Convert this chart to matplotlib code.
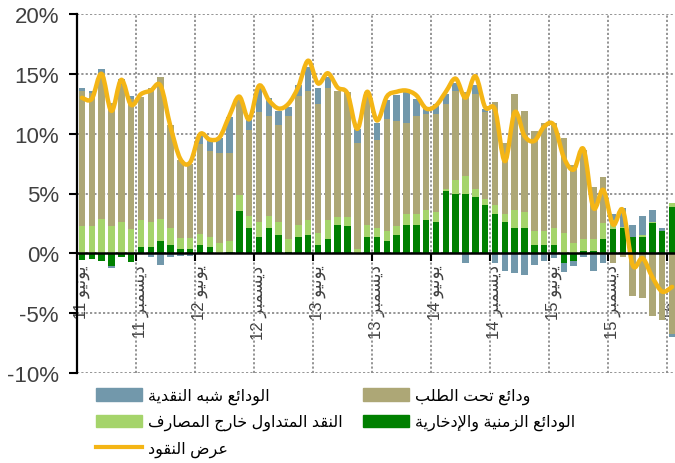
import re
import numpy as np
import matplotlib
matplotlib.use("Agg")
import matplotlib.pyplot as plt
from matplotlib.path import Path
from matplotlib.patches import PathPatch, Patch
from matplotlib.lines import Line2D

plt.rcParams['font.family'] = ['Liberation Sans', 'DejaVu Sans']

# ---------------- data (growth contributions, % ) ----------------
tick_labels = ["يونيو 11", "ديسمبر 11", "يونيو 12", "ديسمبر 12", "يونيو 13",
               "ديسمبر 13", "يونيو 14", "ديسمبر 14", "يونيو 15", "ديسمبر 15",
               "يونيو 16"]

series_names = ["الودائع الزمنية والإدخارية", "النقد المتداول خارج المصارف",
                "ودائع تحت الطلب", "الودائع شبه النقدية"]
line_name = "عرض النقود"

time_savings = [-0.55, -0.45, -0.65, -1.05, -0.3, -0.75, 0.55, 0.55, 1.05, 0.7,
                0.34, 0.34, 0.7, 0.55, 0.05, 0.1, 3.5, 2.1, 1.4, 2.1,
                1.55, 0.15, 1.35, 1.55, 0.7, 1.2, 2.4, 2.3, 0.0, 1.35,
                1.35, 1.05, 1.55, 2.4, 2.4, 2.8, 2.6, 5.2, 5.0, 5.0,
                4.7, 4.0, 3.3, 2.6, 2.1, 2.1, 0.7, 0.7, 0.7, -0.77,
                -0.6, 0.2, 0.2, 1.2, 2.0, 2.1, 1.4, 1.4, 2.5, 1.9,
                3.85]
currency = [2.27, 2.27, 2.9, 2.27, 2.6, 2.07, 2.25, 2.05, 1.85, 1.4,
            0.96, 0.96, 0.9, 0.85, 0.8, 0.95, 1.35, 1.0, 1.2, 1.0,
            1.05, 1.05, 1.05, 1.2, 1.0, 1.55, 0.6, 0.7, 0.37, 1.05,
            0.75, 0.85, 0.7, 0.9, 0.9, 0.8, 0.85, 0.2, 1.1, 1.45,
            0.7, 0.55, 0.7, 0.7, 1.5, 1.35, 1.2, 1.2, 1.4, 1.7,
            0.85, 1.0, 1.0, 1.3, 0.75, 0.1, 0.0, 0.15, 0.1, 0.0,
            0.35]
demand = [11.33, 11.13, 12.15, 10.33, 11.45, 10.83, 10.25, 11.2, 11.8, 8.6,
          6.5, 6.2, 7.5, 7.15, 7.5, 7.35, 8.0, 7.2, 9.2, 8.35,
          8.15, 10.25, 10.75, 10.85, 10.8, 11.05, 10.55, 10.5, 8.83, 11.1,
          7.4, 9.3, 8.85, 7.6, 8.2, 8.05, 8.2, 7.1, 7.5, 7.05,
          7.95, 7.25, 8.65, 5.9, 9.75, 8.45, 8.3, 9.0, 8.8, 7.95,
          6.55, 7.45, 4.35, 3.9, -0.77, -0.3, -3.55, -3.7, -5.25, -5.6,
          -6.7]
quasi = [0.2, 0.15, 0.35, -0.15, 0.5, 0.25, 0.0, -0.3, -0.95, -0.3,
         -0.2, -0.2, 0.85, 1.0, 1.25, 3.0, 0.0, 1.0, 2.0, 1.55,
         1.15, 0.75, 0.95, 2.0, 1.3, 0.95, 0.0, 0.0, 1.2, 0.0,
         1.4, 1.6, 2.1, 2.6, 1.4, 0.45, 0.85, 0.85, 0.6, -0.8,
         0.75, 0.3, -0.8, -1.5, -1.65, -1.85, -1.0, -0.65, -0.4, -0.75,
         -0.45, -0.3, -1.45, -0.8, 0.55, 1.6, 1.0, 1.55, 1.0, 0.2,
         -0.3]
money_supply = [13.0, 12.9, 15.0, 11.9, 14.5, 12.4, 13.3, 13.6, 14.0, 10.6,
                7.9, 7.6, 9.95, 9.5, 9.7, 11.5, 13.1, 11.2, 14.0, 12.8,
                12.1, 12.5, 13.9, 16.1, 14.2, 15.05, 13.85, 13.35, 10.4, 13.5,
                11.1, 13.1, 13.5, 13.6, 13.2, 12.1, 12.35, 13.5, 14.6, 13.0,
                14.8, 12.2, 12.0, 7.7, 11.8, 9.8, 9.4, 10.6, 10.7, 8.0,
                7.0, 8.7, 3.8, 5.3, 2.4, 3.6, -1.0, -0.4, -2.0, -3.2,
                -2.8]

colors = ["#008000", "#A5D46B", "#ADA776", "#7298AB"]
line_color = "#F4B515"

# ---------------- minimal Arabic shaping for display ----------------
FORMS = {
    '\u0627': ('\uFE8D', '\uFE8E', None, None), '\u0625': ('\uFE87', '\uFE88', None, None),
    '\u0623': ('\uFE83', '\uFE84', None, None), '\u0628': ('\uFE8F', '\uFE90', '\uFE91', '\uFE92'),
    '\u0629': ('\uFE93', '\uFE94', None, None), '\u062A': ('\uFE95', '\uFE96', '\uFE97', '\uFE98'),
    '\u062C': ('\uFE9D', '\uFE9E', '\uFE9F', '\uFEA0'), '\u062D': ('\uFEA1', '\uFEA2', '\uFEA3', '\uFEA4'),
    '\u062E': ('\uFEA5', '\uFEA6', '\uFEA7', '\uFEA8'), '\u062F': ('\uFEA9', '\uFEAA', None, None),
    '\u0631': ('\uFEAD', '\uFEAE', None, None), '\u0632': ('\uFEAF', '\uFEB0', None, None),
    '\u0633': ('\uFEB1', '\uFEB2', '\uFEB3', '\uFEB4'), '\u0634': ('\uFEB5', '\uFEB6', '\uFEB7', '\uFEB8'),
    '\u0635': ('\uFEB9', '\uFEBA', '\uFEBB', '\uFEBC'), '\u0636': ('\uFEBD', '\uFEBE', '\uFEBF', '\uFEC0'),
    '\u0637': ('\uFEC1', '\uFEC2', '\uFEC3', '\uFEC4'), '\u0639': ('\uFEC9', '\uFECA', '\uFECB', '\uFECC'),
    '\u0641': ('\uFED1', '\uFED2', '\uFED3', '\uFED4'), '\u0642': ('\uFED5', '\uFED6', '\uFED7', '\uFED8'),
    '\u0644': ('\uFEDD', '\uFEDE', '\uFEDF', '\uFEE0'), '\u0645': ('\uFEE1', '\uFEE2', '\uFEE3', '\uFEE4'),
    '\u0646': ('\uFEE5', '\uFEE6', '\uFEE7', '\uFEE8'), '\u0647': ('\uFEE9', '\uFEEA', '\uFEEB', '\uFEEC'),
    '\u0648': ('\uFEED', '\uFEEE', None, None), '\u064A': ('\uFEF1', '\uFEF2', '\uFEF3', '\uFEF4'),
    '\u0626': ('\uFE89', '\uFE8A', '\uFE8B', '\uFE8C'),
}
LAM_ALEF = {'\u0627': ('\uFEFB', '\uFEFC'), '\u0625': ('\uFEF9', '\uFEFA'),
            '\u0623': ('\uFEF7', '\uFEF8'), '\u0622': ('\uFEF5', '\uFEF6')}


def shape(s):
    out, i, n, prev = [], 0, len(s), False
    while i < n:
        c = s[i]
        if c == '\u0644' and i + 1 < n and s[i + 1] in LAM_ALEF:
            iso, fin = LAM_ALEF[s[i + 1]]
            out.append(fin if prev else iso)
            prev = False
            i += 2
            continue
        f = FORMS.get(c)
        if f is None:
            out.append(c)
            prev = False
            i += 1
            continue
        nxt = s[i + 1] if i + 1 < n else ''
        can_next = f[2] is not None and nxt in FORMS
        if prev and can_next:
            out.append(f[3])
        elif prev:
            out.append(f[1])
        elif can_next:
            out.append(f[2])
        else:
            out.append(f[0])
        prev = can_next
        i += 1
    return ''.join(out)


def rtl(s):
    toks = re.findall(r'\d+|.', shape(s))
    return ''.join(reversed(toks))


# ---------------- figure ----------------
fig = plt.figure(figsize=(6.75, 4.64), dpi=100)
ax = fig.add_axes([77 / 675, 1 - 374 / 464, 600 / 675, 359 / 464])

x = np.arange(len(money_supply))
pos_base = np.zeros(len(x))
neg_base = np.zeros(len(x))
for vals, col in zip([time_savings, currency, demand, quasi], colors):
    v = np.asarray(vals, dtype=float)
    bottom = np.where(v >= 0, pos_base, neg_base)
    ax.bar(x, v, bottom=bottom, width=0.66, color=col, zorder=2, linewidth=0)
    pos_base = pos_base + np.clip(v, 0, None)
    neg_base = neg_base + np.clip(v, None, 0)

# smoothed line (Catmull-Rom -> cubic Bezier in data coordinates)
ys = np.asarray(money_supply, dtype=float)
pts = np.column_stack([x, ys]).astype(float)
verts = [tuple(pts[0])]
codes = [Path.MOVETO]
for i in range(len(pts) - 1):
    p0 = pts[i - 1] if i > 0 else pts[i]
    p1, p2 = pts[i], pts[i + 1]
    p3 = pts[i + 2] if i + 2 < len(pts) else pts[i + 1]
    c1 = p1 + (p2 - p0) / 6.0
    c2 = p2 - (p3 - p1) / 6.0
    verts += [tuple(c1), tuple(c2), tuple(p2)]
    codes += [Path.CURVE4] * 3
ax.add_patch(PathPatch(Path(verts, codes), facecolor='none', edgecolor=line_color,
                       lw=3.2, capstyle='round', joinstyle='round', zorder=3))

ax.set_xlim(-0.5, 60.5)
ax.set_ylim(-10, 20)

# grid
grid_kw = dict(color='#8C8C8C', linestyle=(0, (1.2, 1.2)), linewidth=1.3)
ax.set_axisbelow(True)
ax.set_yticks([-10, -5, 0, 5, 10, 15, 20])
ax.set_yticklabels([f"{v}%" for v in [-10, -5, 0, 5, 10, 15, 20]])
ax.grid(axis='y', which='major', **grid_kw)
ax.set_xticks(np.arange(5.5, 60, 6), minor=True)
ax.grid(axis='x', which='minor', **grid_kw)

ax.set_xticks(np.arange(0, 61, 6))
ax.set_xticklabels([rtl(t) for t in tick_labels])

for s in ['top', 'right']:
    ax.spines[s].set_visible(False)
ax.spines['left'].set_linewidth(1.6)
ax.spines['bottom'].set_position(('data', 0))
ax.spines['bottom'].set_linewidth(1.8)
ax.spines['bottom'].set_zorder(4)

ax.tick_params(axis='y', length=6, width=1.5, direction='out', labelsize=16,
               labelcolor='#404040', pad=7)
ax.tick_params(axis='x', which='major', length=0, labelsize=12,
               labelcolor='#404040', pad=8, labelrotation=90)
ax.tick_params(axis='x', which='minor', length=6, width=1.5, direction='out')
for lab in ax.get_xticklabels():
    lab.set_rotation(90)
    lab.set_va('top')
    lab.set_ha('center')

# legend
h = [Patch(color=c) for c in colors]
hl = Line2D([], [], color=line_color, lw=3.0)
leg_kw = dict(loc='upper left', frameon=False, fontsize=11.5, handlelength=2.9,
              handleheight=0.8, handletextpad=0.35, labelspacing=0.62,
              borderpad=0, borderaxespad=0)
leg1 = fig.legend([h[3], h[1], hl], [rtl(series_names[3]), rtl(series_names[1]), rtl(line_name)],
                  bbox_to_anchor=(96 / 675, 1 - 389 / 464), **leg_kw)
leg2 = fig.legend([h[2], h[0]], [rtl(series_names[2]), rtl(series_names[0])],
                  bbox_to_anchor=(363 / 675, 1 - 389 / 464), **leg_kw)

fig.savefig("out.png", dpi=100)
